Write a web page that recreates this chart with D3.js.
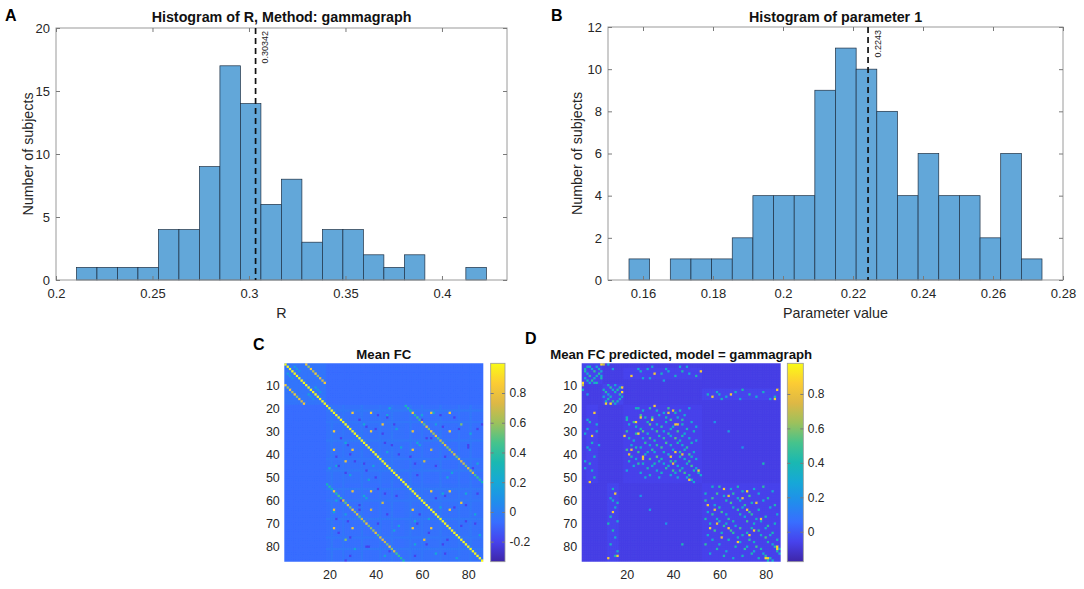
<!DOCTYPE html>
<html>
<head>
<meta charset="utf-8">
<script src="https://cdn.jsdelivr.net/npm/d3@7"></script>
<style>
  body { margin: 0; background: #fff; }
  svg { font-family: "Liberation Sans", Arial, sans-serif; }
</style>
</head>
<body>
<svg width="1084" height="589"></svg>
<script>
// ---------- data ----------
// panel A : histogram of R
const rBinStart = 0.2106;
const rBinWidth = 0.01062;
const rCounts = [1, 1, 1, 1, 4, 4, 9, 17, 14, 6, 8, 3, 4, 4, 2, 1, 2, 0, 0, 1];
const rMean = 0.30342;
const rXTicks = [0.2, 0.25, 0.3, 0.35, 0.4];
const rYTicks = [0, 5, 10, 15, 20];

// panel B : histogram of parameter 1
const pBinStart = 0.156;
const pBinWidth = 0.0059;
const pCounts = [1, 0, 1, 1, 1, 2, 4, 4, 4, 9, 11, 10, 8, 4, 6, 4, 4, 2, 6, 1];
const pMean = 0.2243;
const pXTicks = [0.16, 0.18, 0.2, 0.22, 0.24, 0.26, 0.28];
const pYTicks = [0, 2, 4, 6, 8, 10, 12];

// parula colormap anchors
const parulaT = [0, 0.1, 0.2, 0.3, 0.4, 0.5, 0.6, 0.7, 0.8, 0.9, 1];
const parulaHex = ["#3e26a8", "#4742ec", "#386eff", "#218dec", "#16a8d7", "#1ab8b2",
                   "#46c38c", "#9dc15c", "#deb845", "#fccc34", "#f9fb15"];

const nNodes = 86;
const matTicksY = [10, 20, 30, 40, 50, 60, 70, 80];
const matTicksX = [20, 40, 60, 80];

// panel C : mean FC (symmetric, 1-based row/col)
const fcRange = [-0.335, 1.0];
const fcTicks = [-0.2, 0, 0.2, 0.4, 0.6, 0.8];
const fcBlocks = [            // [r0, r1, c0, c1, value]
  [1, 86, 1, 86, -0.07],
  [1, 18, 1, 18, -0.04],
  [19, 52, 19, 52, -0.05],
  [53, 86, 53, 86, -0.05],
  [19, 52, 53, 86, -0.06]
];
const fcLines = [             // [row, c0, c1, value]
  [21, 19, 86, -0.02], [26, 19, 86, -0.03], [34, 19, 86, -0.02], [42, 19, 86, -0.03], [47, 19, 86, -0.02],
  [55, 19, 86, -0.02], [60, 19, 86, -0.03], [68, 19, 86, -0.02], [76, 19, 86, -0.03], [81, 19, 86, -0.02]
];
const fcMainDiag = [1, 1, 86, 1.0];   // [r0, c0, length, value]
const fcSubHomolog = [0.85, 0.6, 0.85, 0.65, 0.85, 0.6, 0.8, 0.7, 0.85];   // rows 1-9 vs cols 10-18
const fcCortHomolog = [0.3, 0.35, 0.3, 0.4, 0.35, 0.45, 0.4,
  0.75, 0.5, 0.8, 0.55, 0.75, 0.6, 0.8, 0.5, 0.7, 0.6, 0.8, 0.55, 0.75, 0.6, 0.8, 0.5, 0.75, 0.6, 0.7, 0.55, 0.8, 0.6, 0.75,
  0.45, 0.4, 0.35, 0.3];                                                  // rows 19-52 vs cols 53-86
const fcDotIdx = [22, 30, 38, 56, 64, 72];
const fcDotVals = [
  [null, 0.85, 0.85, 0.85, 0.8, 0.85],
  [0.85, null, 0.85, 0.8, 0.85, 0.85],
  [0.85, 0.85, null, 0.85, 0.7, 0.6],
  [0.85, 0.8, 0.85, null, 0.85, 0.85],
  [0.8, 0.85, 0.7, 0.85, null, 0.85],
  [0.85, 0.85, 0.6, 0.85, 0.85, null]
];
const fcCells = [             // [row, col, value]
  [27, 43, 0.8], [27, 77, 0.55], [43, 77, 0.75], [61, 77, 0.8], [43, 61, 0.7],
  [2, 5, 0.15], [4, 7, 0.1], [11, 14, 0.15], [13, 16, 0.1], [6, 3, 0.12], [15, 12, 0.1],
  [20, 46, 0.2], [25, 33, 0.2], [29, 49, 0.18], [35, 27, 0.2], [39, 45, 0.18], [45, 23, 0.2],
  [51, 37, 0.18], [23, 60, 0.2], [27, 66, 0.15], [35, 58, 0.2], [44, 84, 0.18], [50, 71, 0.2],
  [57, 79, 0.2], [63, 68, 0.18], [69, 57, 0.2], [75, 85, 0.18], [83, 66, 0.2], [59, 36, 0.18],
  [65, 22, 0.2], [73, 48, 0.18], [81, 31, 0.2],
  [23, 41, -0.2], [24, 45, -0.2], [28, 36, -0.2], [31, 43, -0.2], [33, 25, -0.2], [36, 47, -0.2],
  [40, 29, -0.2], [44, 35, -0.2], [48, 27, -0.2], [50, 40, -0.2], [24, 74, -0.2], [28, 69, -0.2],
  [33, 62, -0.2], [37, 80, -0.2], [45, 66, -0.2], [49, 58, -0.2], [29, 84, -0.2], [41, 55, -0.2],
  [58, 70, -0.2], [62, 79, -0.2], [66, 59, -0.2], [70, 83, -0.2], [74, 63, -0.2], [79, 69, -0.2],
  [84, 57, -0.2], [71, 77, -0.2], [60, 25, -0.2], [64, 33, -0.2], [70, 41, -0.2], [76, 29, -0.2],
  [82, 46, -0.2], [57, 44, -0.2], [68, 23, -0.2], [80, 36, -0.2], [86, 27, -0.2]
];

// panel D : mean FC predicted (symmetric, 1-based row/col)
const predRange = [-0.174, 0.978];
const predTicks = [0, 0.2, 0.4, 0.6, 0.8];
const predBlocks = [          // [r0, r1, c0, c1, value]
  [1, 86, 1, 86, -0.07],
  [19, 52, 19, 52, -0.06],
  [53, 86, 53, 86, -0.06],
  [1, 9, 1, 9, -0.05],
  [10, 18, 10, 18, -0.05],
  [12, 16, 53, 86, -0.05],
  [3, 7, 19, 52, -0.055]
];
const predCells = [           // [row, col, value]
  // subcortical
  [1, 9, 0.9], [1, 10, 0.7], [2, 3, 0.35], [2, 4, 0.4], [2, 7, 0.3], [3, 5, 0.3], [3, 8, 0.35], [4, 6, 0.45],
  [4, 9, 0.3], [5, 8, 0.45], [6, 7, 0.35], [6, 9, 0.3], [7, 9, 0.4], [10, 12, 0.35], [10, 15, 0.3],
  [11, 13, 0.45], [11, 17, 0.35], [12, 14, 0.3], [12, 16, 0.4], [13, 18, 0.9], [13, 15, 0.35],
  [14, 17, 0.45], [15, 18, 0.3], [16, 17, 0.35], [11, 18, 0.85], [1, 12, 0.3], [3, 14, 0.25],
  // subcortical vs left cortex
  [6, 22, 0.85], [5, 32, 0.85], [4, 52, 0.85], [6, 50, 0.4], [4, 26, 0.35], [3, 29, 0.3], [5, 35, 0.35],
  [4, 38, 0.3], [6, 41, 0.35], [4, 44, 0.4], [5, 47, 0.3], [7, 30, 0.3], [2, 43, 0.3], [3, 25, 0.3],
  [2, 31, 0.3], [3, 37, 0.3], [2, 46, 0.3], [7, 27, 0.3], [8, 36, 0.25],
  // subcortical vs right cortex
  [15, 57, 0.85], [14, 65, 0.85], [12, 70, 0.4], [12, 85, 0.85], [14, 55, 0.35], [13, 59, 0.3],
  [16, 61, 0.35], [15, 63, 0.3], [13, 67, 0.35], [16, 69, 0.3], [14, 73, 0.4], [15, 76, 0.3],
  [13, 79, 0.35], [16, 82, 0.3], [15, 84, 0.4], [14, 60, 0.3], [16, 84, 0.85],
  // left vs right cortex
  [44, 79, 0.4], [30, 64, 0.25], [37, 70, 0.2], [26, 58, 0.2],
  // left cortex block
  [20, 24, 0.35], [20, 25, 0.4], [21, 27, 0.3], [20, 30, 0.45], [21, 33, 0.35], [22, 36, 0.3], [20, 38, 0.5],
  [22, 41, 0.4], [21, 43, 0.35], [23, 45, 0.3], [20, 47, 0.25], [23, 26, 0.5], [24, 28, 0.35], [24, 31, 0.45],
  [23, 34, 0.3], [24, 37, 0.4], [25, 39, 0.5], [24, 42, 0.3], [25, 44, 0.45], [26, 48, 0.3], [26, 29, 0.4],
  [27, 30, 0.55], [27, 33, 0.3], [28, 35, 0.45], [26, 37, 0.35], [28, 40, 0.3], [27, 44, 0.35], [29, 46, 0.4],
  [28, 50, 0.3], [29, 31, 0.35], [30, 33, 0.5], [30, 36, 0.3], [31, 38, 0.45], [29, 39, 0.35], [30, 42, 0.5],
  [31, 45, 0.3], [30, 49, 0.35], [32, 34, 0.4], [33, 36, 0.45], [32, 39, 0.3], [33, 41, 0.55], [34, 43, 0.35],
  [32, 44, 0.4], [33, 47, 0.3], [34, 50, 0.3], [35, 37, 0.5], [36, 39, 0.35], [35, 42, 0.4], [36, 44, 0.3],
  [37, 46, 0.45], [35, 48, 0.35], [38, 40, 0.3], [39, 43, 0.45], [38, 45, 0.35], [40, 47, 0.5], [39, 49, 0.3],
  [41, 43, 0.4], [42, 45, 0.3], [43, 47, 0.45], [41, 48, 0.35], [42, 50, 0.3], [44, 46, 0.35], [45, 48, 0.5],
  [46, 50, 0.3], [47, 49, 0.4], [48, 51, 0.35], [49, 52, 0.3],
  [19, 32, 0.85], [21, 40, 0.8], [24, 26, 0.85], [25, 31, 0.9], [27, 41, 0.85], [22, 38, 0.8], [39, 41, 0.85],
  [27, 42, 0.8], [40, 44, 0.8], [47, 51, 0.85],
  // right cortex block
  [54, 57, 0.35], [54, 60, 0.45], [55, 65, 0.3], [54, 68, 0.4], [56, 70, 0.35], [55, 75, 0.3], [54, 79, 0.45],
  [56, 83, 0.3], [57, 59, 0.5], [58, 62, 0.3], [57, 66, 0.45], [59, 68, 0.35], [58, 73, 0.5], [57, 77, 0.3],
  [59, 81, 0.4], [60, 63, 0.4], [61, 65, 0.5], [60, 69, 0.3], [62, 71, 0.45], [61, 74, 0.35], [60, 79, 0.3],
  [62, 84, 0.4], [63, 66, 0.35], [64, 68, 0.45], [63, 70, 0.3], [65, 73, 0.5], [64, 77, 0.35], [63, 82, 0.3],
  [66, 69, 0.4], [67, 71, 0.3], [66, 74, 0.45], [68, 76, 0.35], [67, 80, 0.4], [66, 85, 0.3], [69, 72, 0.5],
  [70, 75, 0.35], [69, 78, 0.3], [71, 81, 0.45], [70, 84, 0.35], [72, 74, 0.4], [73, 77, 0.45], [72, 80, 0.3],
  [74, 83, 0.4], [75, 78, 0.35], [76, 80, 0.5], [75, 82, 0.3], [77, 85, 0.35], [78, 81, 0.4], [79, 83, 0.3],
  [80, 84, 0.45], [81, 86, 0.35], [82, 85, 0.4], [83, 86, 0.3],
  [55, 62, 0.85], [56, 72, 0.9], [64, 72, 0.85], [61, 76, 0.8], [73, 75, 0.85], [80, 85, 0.9], [81, 85, 0.85],
  [58, 64, 0.8], [68, 78, 0.85], [59, 70, 0.8]
];

// ---------- drawing ----------
const svg = d3.select("svg");
const fontFamily = '"Liberation Sans", Arial, sans-serif';
const defs = svg.append("defs");
defs.append("filter").attr("id", "soft")
  .attr("x", "-5%").attr("y", "-5%").attr("width", "110%").attr("height", "110%")
  .append("feGaussianBlur").attr("stdDeviation", 0.4);

function styleAxis(sel, size) {
  sel.attr("font-family", fontFamily).attr("font-size", size);
  sel.selectAll("text").attr("fill", "#262626");
  sel.selectAll("line").attr("stroke", "#7a7a7a");
}

function histogram(o) {
  const x = d3.scaleLinear().domain(o.xDomain).range([o.left, o.right]);
  const y = d3.scaleLinear().domain(o.yDomain).range([o.bottom, o.top]);
  const g = svg.append("g");
  const bins = o.counts.map((c, i) => ({ x0: o.binStart + i * o.binWidth, x1: o.binStart + (i + 1) * o.binWidth, c }));

  g.selectAll("rect.bar")
    .data(bins.filter(d => d.c > 0))
    .join("rect")
    .attr("class", "bar")
    .attr("x", d => x(d.x0))
    .attr("y", d => y(d.c))
    .attr("width", d => x(d.x1) - x(d.x0))
    .attr("height", d => y(0) - y(d.c))
    .attr("fill", "#62a7d9")
    .attr("stroke", "#1d2f43")
    .attr("stroke-width", 0.7);

  // box
  g.append("rect")
    .attr("x", o.left).attr("y", o.top)
    .attr("width", o.right - o.left).attr("height", o.bottom - o.top)
    .attr("fill", "none").attr("stroke", "#9a9a9a").attr("stroke-width", 1);

  g.append("g").attr("transform", `translate(0,${o.bottom})`)
    .call(d3.axisBottom(x).tickValues(o.xTicks).tickFormat(String).tickSizeInner(-4).tickSizeOuter(0).tickPadding(8.5))
    .call(s => s.select(".domain").remove())
    .call(s => styleAxis(s, 13));
  g.append("g").attr("transform", `translate(0,${o.top})`)
    .call(d3.axisTop(x).tickValues(o.xTicks).tickFormat("").tickSizeInner(-4).tickSizeOuter(0))
    .call(s => s.select(".domain").remove())
    .call(s => styleAxis(s, 13));
  g.append("g").attr("transform", `translate(${o.left},0)`)
    .call(d3.axisLeft(y).tickValues(o.yTicks).tickFormat(String).tickSizeInner(-4).tickSizeOuter(0).tickPadding(6))
    .call(s => s.select(".domain").remove())
    .call(s => styleAxis(s, 13));
  g.append("g").attr("transform", `translate(${o.right},0)`)
    .call(d3.axisRight(y).tickValues(o.yTicks).tickFormat("").tickSizeInner(-4).tickSizeOuter(0))
    .call(s => s.select(".domain").remove())
    .call(s => styleAxis(s, 13));

  // mean line
  g.append("line")
    .attr("x1", x(o.mean)).attr("x2", x(o.mean))
    .attr("y1", o.top).attr("y2", o.bottom)
    .attr("stroke", "#111").attr("stroke-width", 1.7)
    .attr("stroke-dasharray", "6,4");
  g.append("text")
    .attr("transform", `translate(${x(o.mean) + 12.5},${o.top + 3}) rotate(-90)`)
    .attr("text-anchor", "end")
    .attr("font-size", 9)
    .attr("fill", "#222")
    .text(String(o.mean));

  // titles
  g.append("text")
    .attr("x", (o.left + o.right) / 2).attr("y", 22)
    .attr("text-anchor", "middle").attr("font-weight", "bold").attr("font-size", 14.3)
    .attr("fill", "#111")
    .text(o.title);
  g.append("text")
    .attr("x", (o.left + o.right) / 2).attr("y", 318)
    .attr("text-anchor", "middle").attr("font-size", 14.3).attr("fill", "#262626")
    .text(o.xLabel);
  g.append("text")
    .attr("transform", `translate(${o.yLabelX},${(o.top + o.bottom) / 2}) rotate(-90)`)
    .attr("text-anchor", "middle").attr("font-size", 14.3).attr("fill", "#262626")
    .text("Number of subjects");
}

function buildMatrix(blocks, lines, cells) {
  const m = Array.from({ length: nNodes }, () => new Array(nNodes).fill(0));
  const put = (r, c, v) => { m[r - 1][c - 1] = v; m[c - 1][r - 1] = v; };
  blocks.forEach(([r0, r1, c0, c1, v]) => {
    for (let r = r0; r <= r1; r++) for (let c = c0; c <= c1; c++) put(r, c, v);
  });
  lines.forEach(([r, c0, c1, v]) => { for (let c = c0; c <= c1; c++) put(r, c, v); });
  cells.forEach(([r, c, v]) => put(r, c, v));
  return { m, put };
}

function parulaScale(range) {
  return d3.scaleLinear()
    .domain(parulaT.map(t => range[0] + t * (range[1] - range[0])))
    .range(parulaHex)
    .interpolate(d3.interpolateRgb)
    .clamp(true);
}

function heatmap(o) {
  const xb = d3.scaleBand().domain(d3.range(1, nNodes + 1)).range([o.left, o.right]);
  const yb = d3.scaleBand().domain(d3.range(1, nNodes + 1)).range([o.top, o.bottom]);
  const xl = d3.scaleLinear().domain([0.5, nNodes + 0.5]).range([o.left, o.right]);
  const yl = d3.scaleLinear().domain([0.5, nNodes + 0.5]).range([o.top, o.bottom]);
  const color = parulaScale(o.range);

  const cells = [];
  o.matrix.forEach((row, i) => row.forEach((v, j) => cells.push({ r: i + 1, c: j + 1, v })));

  defs.append("clipPath").attr("id", o.id + "-clip")
    .append("rect").attr("x", o.left).attr("y", o.top)
    .attr("width", o.right - o.left).attr("height", o.bottom - o.top);

  const g = svg.append("g");
  const img = g.append("g")
    .attr("clip-path", `url(#${o.id}-clip)`)
    .append("g")
    .attr("filter", "url(#soft)");
  // base fill so blur does not bleed white inward at the edges
  img.append("rect")
    .attr("x", o.left - 3).attr("y", o.top - 3)
    .attr("width", o.right - o.left + 6).attr("height", o.bottom - o.top + 6)
    .attr("fill", color(o.matrix[nNodes - 1][0]));
  img.selectAll("rect.cell")
    .data(cells)
    .join("rect")
    .attr("class", "cell")
    .attr("x", d => xb(d.c))
    .attr("y", d => yb(d.r))
    .attr("width", xb.bandwidth() + 0.4)
    .attr("height", yb.bandwidth() + 0.4)
    .attr("fill", d => color(d.v));

  g.append("g").attr("transform", `translate(${o.left},0)`)
    .call(d3.axisLeft(yl).tickValues(matTicksY).tickFormat(String).tickSize(0).tickPadding(4.5))
    .call(s => s.select(".domain").remove())
    .call(s => styleAxis(s, 12.5));
  g.append("g").attr("transform", `translate(0,${o.bottom})`)
    .call(d3.axisBottom(xl).tickValues(matTicksX).tickFormat(String).tickSize(0).tickPadding(8))
    .call(s => s.select(".domain").remove())
    .call(s => styleAxis(s, 12.5));

  // colorbar
  const gid = o.id + "-grad";
  const grad = defs.append("linearGradient").attr("id", gid)
    .attr("x1", "0%").attr("y1", "100%").attr("x2", "0%").attr("y2", "0%");
  parulaT.forEach((t, i) => grad.append("stop").attr("offset", `${t * 100}%`).attr("stop-color", parulaHex[i]));
  const cy = d3.scaleLinear().domain(o.range).range([o.bottom, o.top]);
  g.append("rect")
    .attr("x", o.cbLeft).attr("y", o.top)
    .attr("width", o.cbRight - o.cbLeft).attr("height", o.bottom - o.top)
    .attr("fill", `url(#${gid})`)
    .attr("stroke", "#9a9a9a").attr("stroke-width", 0.8);
  g.append("g").attr("transform", `translate(${o.cbRight},0)`)
    .call(d3.axisRight(cy).tickValues(o.cbTicks).tickFormat(String).tickSizeInner(-3).tickSizeOuter(0).tickPadding(4.5))
    .call(s => s.select(".domain").remove())
    .call(s => styleAxis(s, 12));
  g.append("g").attr("transform", `translate(${o.cbLeft},0)`)
    .call(d3.axisLeft(cy).tickValues(o.cbTicks).tickFormat("").tickSizeInner(-3).tickSizeOuter(0))
    .call(s => s.select(".domain").remove())
    .call(s => styleAxis(s, 12));

  g.append("text")
    .attr("x", (o.left + o.right) / 2).attr("y", 359)
    .attr("text-anchor", "middle").attr("font-weight", "bold").attr("font-size", 13.2)
    .attr("fill", "#111")
    .text(o.title);
}

// panel A / B
histogram({
  left: 56, right: 507, top: 28, bottom: 280,
  xDomain: [0.2, 0.4337], yDomain: [0, 20],
  binStart: rBinStart, binWidth: rBinWidth, counts: rCounts, mean: rMean,
  xTicks: rXTicks, yTicks: rYTicks,
  title: "Histogram of R, Method: gammagraph", xLabel: "R", yLabelX: 33
});
histogram({
  left: 608, right: 1063, top: 27, bottom: 280,
  xDomain: [0.15, 0.28], yDomain: [0, 12],
  binStart: pBinStart, binWidth: pBinWidth, counts: pCounts, mean: pMean,
  xTicks: pXTicks, yTicks: pYTicks,
  title: "Histogram of parameter 1", xLabel: "Parameter value", yLabelX: 582
});

// panel C matrix
const fc = buildMatrix(fcBlocks, fcLines, []);
for (let i = 0; i < fcMainDiag[2]; i++) fc.put(fcMainDiag[0] + i, fcMainDiag[1] + i, fcMainDiag[3]);
fcSubHomolog.forEach((v, i) => fc.put(1 + i, 10 + i, v));
fcCortHomolog.forEach((v, i) => fc.put(19 + i, 53 + i, v));
fcCells.forEach(([r, c, v]) => fc.put(r, c, v));
fcDotIdx.forEach((r, i) => fcDotIdx.forEach((c, j) => { if (fcDotVals[i][j] !== null) fc.put(r, c, fcDotVals[i][j]); }));

heatmap({
  id: "fc", matrix: fc.m, range: fcRange, cbTicks: fcTicks,
  left: 284.3, right: 483.3, top: 363.3, bottom: 561.7,
  cbLeft: 490.7, cbRight: 505,
  title: "Mean FC"
});

// panel D matrix
const pred = buildMatrix(predBlocks, [], predCells);
heatmap({
  id: "pred", matrix: pred.m, range: predRange, cbTicks: predTicks,
  left: 581.7, right: 780.7, top: 363.3, bottom: 561.7,
  cbLeft: 787.3, cbRight: 803.3,
  title: "Mean FC predicted, model = gammagraph"
});

// panel letters
[["A", 5, 21], ["B", 551, 21], ["C", 253, 350], ["D", 525, 343.5]].forEach(([t, x, y]) => {
  svg.append("text").attr("x", x).attr("y", y)
    .attr("font-size", 16).attr("font-weight", "bold").attr("fill", "#000")
    .text(t);
});
</script>
</body>
</html>
